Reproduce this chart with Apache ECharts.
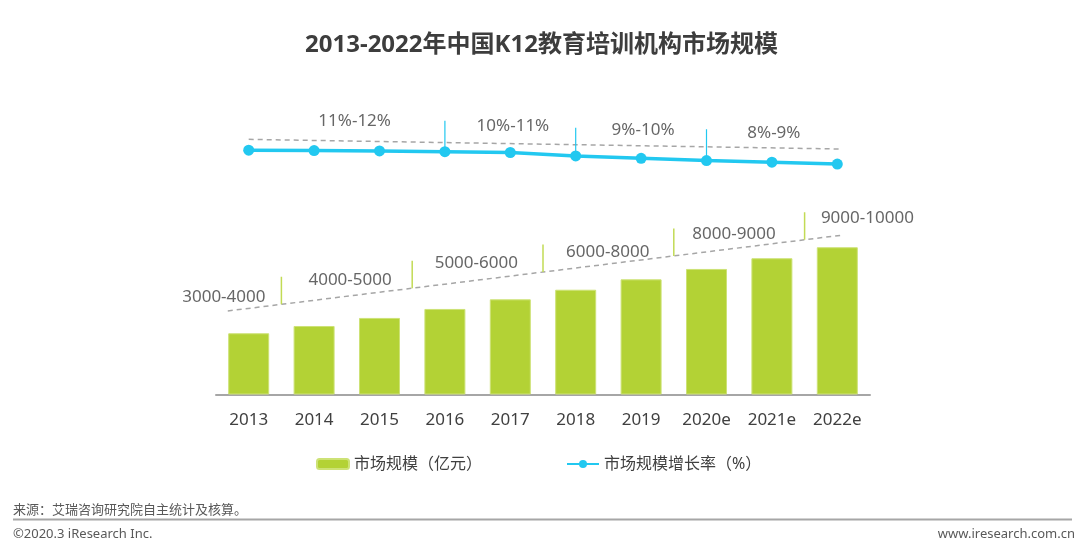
<!DOCTYPE html>
<html>
<head>
<meta charset="utf-8">
<script src="https://cdn.jsdelivr.net/npm/echarts@6/dist/echarts.min.js"></script>
<style>
html,body{margin:0;padding:0;background:#fff;}
#chart{width:1083px;height:546px;}
</style>
</head>
<body>
<div id="chart"></div>
<script>
const years = ['2013','2014','2015','2016','2017','2018','2019','2020e','2021e','2022e'];
const marketSize = [3950, 4420, 4940, 5520, 6140, 6760, 7430, 8100, 8790, 9500];
const growthRate = [11.8, 11.7, 11.6, 11.4, 11.2, 10.3, 9.7, 9.1, 8.7, 8.2];

const sizeRangeLabels = ['3000-4000','4000-5000','5000-6000','6000-8000','8000-9000','9000-10000'];
const sizeRangeAnchors = [[-0.38, 6310], [1.55, 7390], [3.48, 8465], [5.49, 9215], [7.42, 10355], [9.46, 11370]];
const sizeTrend = [[-0.32, 5390], [9.09, 10290]];
const sizeDividers = [[0.5, 5820, 7600], [2.5, 6860, 8630], [4.5, 7900, 9670], [6.5, 8940, 10710], [8.5, 9980, 11760]];

const rateRangeLabels = ['11%-12%','10%-11%','9%-10%','8%-9%'];
const rateRangeAnchors = [[1.62, 19.44], [4.04, 18.1], [6.03, 17.1], [8.03, 16.25]];
const rateTrend = [[0, 14.6], [9.07, 12.1]];
const rateDividers = [[3, 11.4, 19.4], [5, 10.3, 17.6], [7, 9.1, 17.2]];

const TXT = '#404040';
const FONT = "'Noto Sans','Noto Sans CJK SC',sans-serif";
const BAR_C = '#b3d235';
const LINE_C = '#22c8f0';
const GRAY = '#a6a6a6';

const chart = echarts.init(document.getElementById('chart'));

const series = [
  {
    name: '市场规模（亿元）', type: 'bar', xAxisIndex: 0, yAxisIndex: 0,
    data: marketSize, barWidth: 41,
    itemStyle: { color: BAR_C, borderColor: '#cde276', borderWidth: 1 },
    z: 3
  },
  {
    name: '市场规模增长率（%）', type: 'line', xAxisIndex: 0, yAxisIndex: 1,
    data: growthRate, symbol: 'circle', symbolSize: 11,
    lineStyle: { color: LINE_C, width: 3.5 },
    itemStyle: { color: LINE_C },
    z: 5
  },
  {
    type: 'line', xAxisIndex: 1, yAxisIndex: 0, data: sizeTrend,
    symbol: 'none', silent: true,
    lineStyle: { color: GRAY, width: 1.5, type: [5, 4] }, z: 2
  },
  {
    type: 'line', xAxisIndex: 1, yAxisIndex: 1, data: rateTrend,
    symbol: 'none', silent: true,
    lineStyle: { color: GRAY, width: 1.5, type: [5, 4] }, z: 2
  },
  {
    type: 'scatter', xAxisIndex: 1, yAxisIndex: 0, symbolSize: 0, silent: true,
    data: sizeRangeAnchors.map((p, i) => ({ value: p, name: sizeRangeLabels[i] })),
    label: { show: true, position: 'inside', formatter: '{b}', color: TXT, fontSize: 17, fontFamily: FONT },
    z: 6
  },
  {
    type: 'scatter', xAxisIndex: 1, yAxisIndex: 1, symbolSize: 0, silent: true,
    data: rateRangeAnchors.map((p, i) => ({ value: p, name: rateRangeLabels[i] })),
    label: { show: true, position: 'inside', formatter: '{b}', color: TXT, fontSize: 17, fontFamily: FONT },
    z: 6
  }
];

sizeDividers.forEach(d => {
  series.push({
    type: 'line', xAxisIndex: 1, yAxisIndex: 0, data: [[d[0], d[1]], [d[0], d[2]]],
    symbol: 'none', silent: true, lineStyle: { color: '#c2db55', width: 1.5 }, z: 2
  });
});
rateDividers.forEach(d => {
  series.push({
    type: 'line', xAxisIndex: 1, yAxisIndex: 1, data: [[d[0], d[1]], [d[0], d[2]]],
    symbol: 'none', silent: true, lineStyle: { color: LINE_C, width: 1.2 }, z: 2
  });
});

chart.setOption({
  animation: false,
  backgroundColor: '#fff',
  title: {
    text: '2013-2022年中国K12教育培训机构市场规模',
    left: 'center', top: 33, padding: 0,
    textStyle: { fontSize: 24, fontWeight: 'bold', color: '#3d3d3d', fontFamily: FONT }
  },
  legend: {
    data: ['市场规模（亿元）', '市场规模增长率（%）'],
    left: 311, top: 451, itemWidth: 32, itemHeight: 10, itemGap: 84,
    textStyle: { fontSize: 16, color: TXT, fontFamily: FONT }
  },
  grid: { left: 216, right: 213, top: 100, bottom: 151.5, containLabel: false },
  xAxis: [
    {
      type: 'category', data: years, boundaryGap: true,
      axisLine: { lineStyle: { color: GRAY, width: 2 } },
      axisTick: { show: false },
      axisLabel: { color: TXT, fontSize: 17, margin: 17, fontFamily: FONT }
    },
    { type: 'value', min: -0.5, max: 9.5, show: false }
  ],
  yAxis: [
    { type: 'value', min: 0, max: 19000, show: false, splitLine: { show: false } },
    { type: 'value', min: -51.5, max: 24.8, show: false, splitLine: { show: false } }
  ],
  series: series,
  graphic: [
    { type: 'text', left: 13, top: 504, style: { text: '来源：艾瑞咨询研究院自主统计及核算。', fontSize: 13, fill: '#595959', fontFamily: FONT } },
    { type: 'line', shape: { x1: 13, y1: 519.5, x2: 1072, y2: 519.5 }, style: { stroke: GRAY, lineWidth: 2 } },
    { type: 'text', left: 13, top: 528, style: { text: '©2020.3 iResearch Inc.', fontSize: 13, fill: '#595959', fontFamily: FONT } },
    { type: 'text', right: 8, top: 528, style: { text: 'www.iresearch.com.cn', fontSize: 13, fill: '#595959', fontFamily: FONT } }
  ]
});
</script>
</body>
</html>
